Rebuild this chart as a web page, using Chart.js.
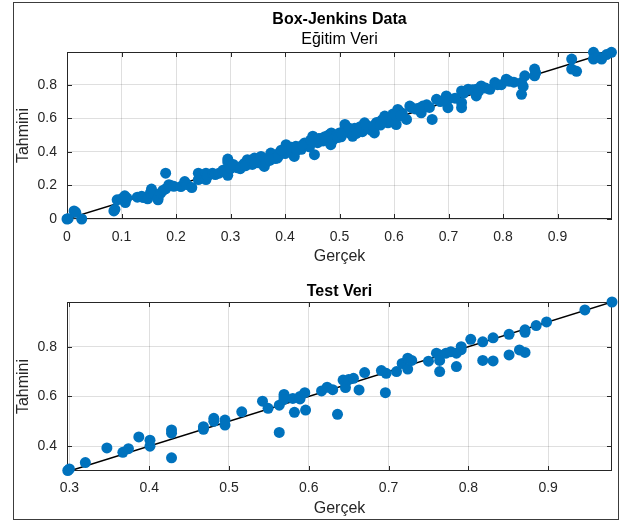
<!DOCTYPE html>
<html>
<head>
<meta charset="utf-8">
<script src="https://cdn.jsdelivr.net/npm/chart.js@4"></script>
<style>
  html, body { margin: 0; padding: 0; background: #fff; }
  body { width: 633px; height: 523px; position: relative; overflow: hidden; }
  #frame { position: absolute; left: 13px; top: 2px; width: 604px; height: 516px; border: 1px solid #3c3c3c; }
  canvas { position: absolute; left: 0; }
  #train-chart { top: 0; }
  #test-chart { top: 270px; }
</style>
</head>
<body>
<div id="frame"></div>
<canvas id="train-chart" width="633" height="270"></canvas>
<canvas id="test-chart" width="633" height="253"></canvas>
<script>
// Egitim (training) set: actual vs predicted, normalised
const trainActual = [
  0.000, 0.002, 0.013, 0.016, 0.027, 0.086, 0.088, 0.092, 0.100, 0.106, 0.107, 0.110,
  0.129, 0.137, 0.140, 0.148, 0.153, 0.155, 0.160, 0.167, 0.167, 0.172, 0.176, 0.181,
  0.181, 0.187, 0.190, 0.196, 0.209, 0.216, 0.220, 0.229, 0.241, 0.241, 0.245, 0.255,
  0.255, 0.258, 0.267, 0.272, 0.279, 0.286, 0.290, 0.295, 0.295, 0.295, 0.300, 0.307,
  0.313, 0.319, 0.325, 0.331, 0.335, 0.340, 0.344, 0.348, 0.352, 0.356, 0.360, 0.362,
  0.366, 0.370, 0.374, 0.378, 0.382, 0.386, 0.390, 0.396, 0.400, 0.402, 0.406, 0.410,
  0.417, 0.420, 0.425, 0.430, 0.436, 0.440, 0.445, 0.451, 0.454, 0.457, 0.460, 0.466,
  0.470, 0.475, 0.480, 0.484, 0.485, 0.490, 0.495, 0.500, 0.503, 0.507, 0.510, 0.512,
  0.515, 0.520, 0.524, 0.528, 0.534, 0.538, 0.542, 0.546, 0.550, 0.555, 0.558, 0.564,
  0.568, 0.572, 0.578, 0.583, 0.589, 0.592, 0.598, 0.604, 0.607, 0.610, 0.615, 0.623,
  0.629, 0.632, 0.640, 0.650, 0.653, 0.660, 0.665, 0.670, 0.678, 0.685, 0.696, 0.699,
  0.700, 0.724, 0.724, 0.724, 0.728, 0.736, 0.744, 0.751, 0.751, 0.755, 0.760, 0.768,
  0.776, 0.785, 0.790, 0.797, 0.806, 0.812, 0.820, 0.834, 0.834, 0.837, 0.840, 0.858,
  0.858, 0.860, 0.926, 0.926, 0.935, 0.966, 0.966, 0.975, 0.981, 0.990, 0.999,
  0.305, 0.318, 0.328, 0.338, 0.345, 0.372, 0.388, 0.393, 0.412, 0.422, 0.432, 0.447,
  0.462, 0.473, 0.488, 0.497, 0.505, 0.518, 0.531, 0.540, 0.548, 0.562, 0.575, 0.585,
  0.595, 0.602, 0.612, 0.645, 0.690, 0.712,
];
const trainPredicted = [
  0.000, 0.002, 0.048, 0.040, 0.000, 0.048, 0.058, 0.114, 0.120, 0.138, 0.098, 0.125,
  0.130, 0.136, 0.128, 0.120, 0.155, 0.178, 0.150, 0.114, 0.125, 0.154, 0.170, 0.273,
  0.180, 0.204, 0.200, 0.195, 0.193, 0.223, 0.205, 0.187, 0.273, 0.235, 0.255, 0.273,
  0.235, 0.255, 0.273, 0.265, 0.273, 0.290, 0.280, 0.357, 0.340, 0.260, 0.300, 0.313,
  0.305, 0.313, 0.330, 0.353, 0.340, 0.325, 0.363, 0.350, 0.335, 0.373, 0.355, 0.313,
  0.340, 0.365, 0.393, 0.380, 0.360, 0.363, 0.395, 0.403, 0.390, 0.443, 0.420, 0.410,
  0.373, 0.433, 0.425, 0.415, 0.453, 0.440, 0.430, 0.493, 0.383, 0.470, 0.455, 0.480,
  0.465, 0.470, 0.500, 0.443, 0.513, 0.480, 0.500, 0.513, 0.490, 0.520, 0.563, 0.545,
  0.530, 0.510, 0.493, 0.540, 0.530, 0.550, 0.520, 0.573, 0.555, 0.545, 0.530, 0.513,
  0.575, 0.565, 0.590, 0.613, 0.573, 0.600, 0.625, 0.563, 0.653, 0.640, 0.630, 0.593,
  0.673, 0.663, 0.655, 0.633, 0.673, 0.680, 0.665, 0.593, 0.713, 0.700, 0.733, 0.663,
  0.715, 0.763, 0.693, 0.663, 0.750, 0.773, 0.770, 0.773, 0.733, 0.760, 0.793, 0.780,
  0.773, 0.813, 0.800, 0.800, 0.833, 0.820, 0.815, 0.743, 0.813, 0.790, 0.853, 0.893,
  0.853, 0.870, 0.953, 0.893, 0.880, 0.993, 0.953, 0.965, 0.953, 0.980, 0.993,
  0.325, 0.300, 0.318, 0.348, 0.335, 0.350, 0.375, 0.410, 0.428, 0.410, 0.440, 0.470,
  0.480, 0.490, 0.470, 0.485, 0.505, 0.540, 0.510, 0.540, 0.560, 0.555, 0.560, 0.600,
  0.585, 0.620, 0.615, 0.660, 0.705, 0.720,
];

// Test set
const testActual = [
  0.298, 0.300, 0.320, 0.347, 0.367, 0.374, 0.387, 0.401, 0.401, 0.428, 0.428, 0.428,
  0.468, 0.468, 0.481, 0.481, 0.495, 0.495, 0.516, 0.542, 0.549, 0.563, 0.563, 0.569,
  0.569, 0.569, 0.580, 0.582, 0.589, 0.589, 0.595, 0.596, 0.616, 0.623, 0.630, 0.636,
  0.643, 0.646, 0.650, 0.656, 0.663, 0.670, 0.691, 0.697, 0.696, 0.710, 0.717, 0.724,
  0.724, 0.729, 0.750, 0.760, 0.764, 0.764, 0.764, 0.772, 0.778, 0.785, 0.785, 0.791,
  0.791, 0.803, 0.818, 0.818, 0.831, 0.831, 0.851, 0.851, 0.864, 0.871, 0.871, 0.871,
  0.885, 0.898, 0.946, 0.980,
];
const testPredicted = [
  0.302, 0.308, 0.334, 0.393, 0.375, 0.390, 0.437, 0.424, 0.400, 0.465, 0.452, 0.353,
  0.478, 0.468, 0.512, 0.500, 0.505, 0.485, 0.538, 0.581, 0.552, 0.455, 0.565, 0.608,
  0.598, 0.588, 0.592, 0.536, 0.600, 0.590, 0.615, 0.545, 0.622, 0.637, 0.627, 0.528,
  0.666, 0.636, 0.668, 0.673, 0.626, 0.696, 0.704, 0.693, 0.615, 0.700, 0.733, 0.754,
  0.710, 0.745, 0.742, 0.774, 0.767, 0.745, 0.700, 0.774, 0.780, 0.774, 0.720, 0.800,
  0.788, 0.830, 0.820, 0.745, 0.836, 0.743, 0.850, 0.767, 0.787, 0.868, 0.858, 0.777,
  0.885, 0.900, 0.948, 0.980,
];

// y = x reference lines
const trainIdeal = [0, 1];
const testIdeal = [0.3, 0.98];

const trainXTicks = [0, 0.1, 0.2, 0.3, 0.4, 0.5, 0.6, 0.7, 0.8, 0.9];
const trainYTicks = [0, 0.2, 0.4, 0.6, 0.8];
const testXTicks = [0.3, 0.4, 0.5, 0.6, 0.7, 0.8, 0.9];
const testYTicks = [0.4, 0.6, 0.8];

const fontFamily = "'Liberation Sans', Arial, Helvetica, sans-serif";
const axisColour = '#262626';
const gridColour = 'rgba(38, 38, 38, 0.15)';
const markerColour = '#0072BD';

function toPoints(xs, ys) {
  return xs.map((x, i) => ({ x, y: ys[i] }));
}

function formatTick(value) {
  return value === 0 ? '0' : Number(value).toFixed(1);
}

// MATLAB-style box round the axes with inward tick marks
const axesBoxPlugin = {
  id: 'axesBox',
  beforeDatasetsDraw(chart) {
    const { ctx, chartArea: a, scales } = chart;
    const len = 5;
    ctx.save();
    ctx.strokeStyle = axisColour;
    ctx.lineWidth = 1;
    ctx.strokeRect(Math.round(a.left) + 0.5, Math.round(a.top) + 0.5,
      Math.round(a.right - a.left) - 1, Math.round(a.bottom - a.top) - 1);
    ctx.beginPath();
    scales.x.ticks.forEach((t) => {
      const px = Math.round(scales.x.getPixelForValue(t.value)) + 0.5;
      ctx.moveTo(px, a.bottom); ctx.lineTo(px, a.bottom - len);
      ctx.moveTo(px, a.top); ctx.lineTo(px, a.top + len);
    });
    scales.y.ticks.forEach((t) => {
      const py = Math.round(scales.y.getPixelForValue(t.value)) + 0.5;
      ctx.moveTo(a.left, py); ctx.lineTo(a.left + len, py);
      ctx.moveTo(a.right, py); ctx.lineTo(a.right - len, py);
    });
    ctx.stroke();
    ctx.restore();
  },
};

function buildChart(canvas, opts) {
  return new Chart(canvas, {
    type: 'scatter',
    data: {
      datasets: [
        {
          label: 'Tahmin',
          data: toPoints(opts.actual, opts.predicted),
          backgroundColor: markerColour,
          borderColor: markerColour,
          borderWidth: 0,
          pointRadius: 5.5,
          clip: false,
        },
        {
          label: 'y = x',
          type: 'line',
          data: toPoints(opts.ideal, opts.ideal),
          borderColor: '#000',
          borderWidth: 1.5,
          pointRadius: 0,
          fill: false,
        },
      ],
    },
    plugins: [axesBoxPlugin],
    options: {
      responsive: false,
      animation: false,
      layout: { padding: { left: 0, right: 21, top: 0, bottom: 0 } },
      scales: {
        x: {
          type: 'linear',
          min: opts.xMin,
          max: opts.xMax,
          afterBuildTicks: (scale) => { scale.ticks = opts.xTicks.map((value) => ({ value })); },
          afterFit: (scale) => { scale.height = opts.xAxisHeight; },
          grid: { color: gridColour, drawTicks: false },
          border: { display: false },
          ticks: {
            padding: opts.xTickPad,
            color: axisColour,
            font: { family: fontFamily, size: 14 },
            maxRotation: 0,
            callback: formatTick,
          },
          title: {
            display: true,
            text: 'Gerçek',
            color: axisColour,
            font: { family: fontFamily, size: 16 },
            padding: { top: 0, bottom: opts.xTitlePad },
          },
        },
        y: {
          type: 'linear',
          min: opts.yMin,
          max: opts.yMax,
          afterBuildTicks: (scale) => { scale.ticks = opts.yTicks.map((value) => ({ value })); },
          afterFit: (scale) => { scale.width = 67; },
          grid: { color: gridColour, drawTicks: false },
          border: { display: false },
          ticks: {
            padding: 10,
            color: axisColour,
            font: { family: fontFamily, size: 14 },
            callback: formatTick,
          },
          title: {
            display: true,
            text: 'Tahmini',
            color: axisColour,
            font: { family: fontFamily, size: 16 },
            padding: { top: 14, bottom: 0 },
          },
        },
      },
      plugins: {
        legend: { display: false },
        tooltip: { enabled: false },
        title: {
          display: true,
          text: opts.title,
          fullSize: false,
          color: '#000',
          font: { family: fontFamily, size: 16, weight: 'bold' },
          padding: opts.titlePad,
        },
        subtitle: {
          display: Boolean(opts.subtitle),
          text: opts.subtitle || '',
          fullSize: false,
          color: '#000',
          font: { family: fontFamily, size: 16 },
          padding: { top: 0, bottom: 3.2 },
        },
      },
    },
  });
}

buildChart(document.getElementById('train-chart'), {
  actual: trainActual,
  predicted: trainPredicted,
  ideal: trainIdeal,
  xMin: 0, xMax: 1, yMin: 0, yMax: 0.995,
  xTicks: trainXTicks, yTicks: trainYTicks,
  xAxisHeight: 51, xTickPad: 10, xTitlePad: 3.4,
  title: 'Box-Jenkins Data',
  subtitle: 'Eğitim Veri',
  titlePad: { top: 10.4, bottom: 0 },
});

buildChart(document.getElementById('test-chart'), {
  actual: testActual,
  predicted: testPredicted,
  ideal: testIdeal,
  xMin: 0.297, xMax: 0.98, yMin: 0.3, yMax: 0.98,
  xTicks: testXTicks, yTicks: testYTicks,
  xAxisHeight: 52, xTickPad: 8.6, xTitlePad: 4.4,
  title: 'Test Veri',
  subtitle: '',
  titlePad: { top: 12.4, bottom: 0.4 },
});
</script>
</body>
</html>
